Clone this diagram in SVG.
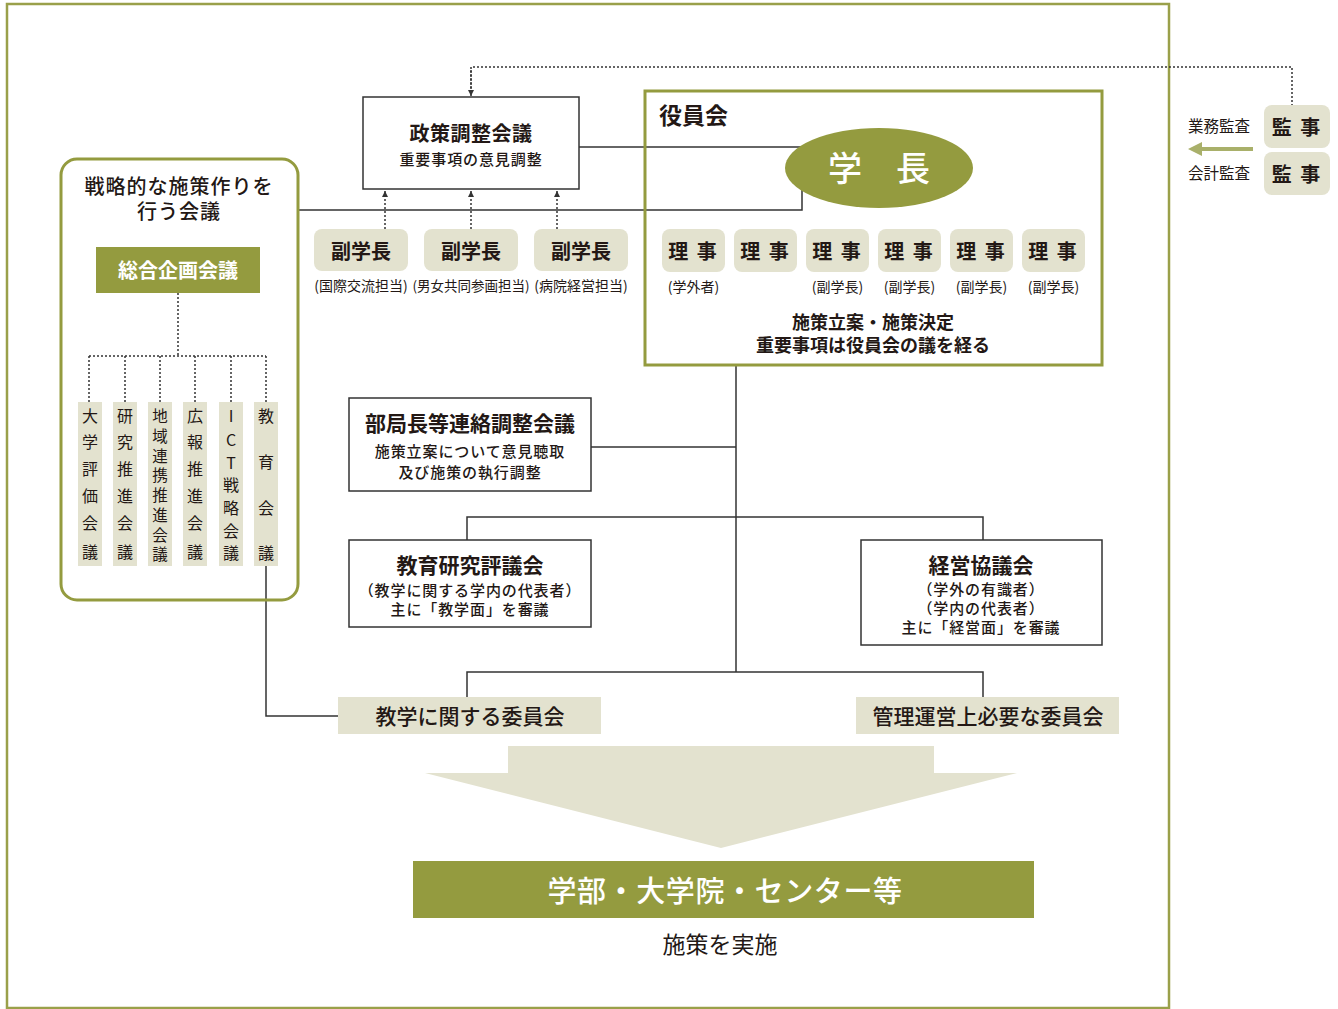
<svg xmlns="http://www.w3.org/2000/svg" width="1338" height="1009" viewBox="0 0 1338 1009">
<defs>
<style>
text{font-family:"Noto Sans CJK JP","Noto Sans CJK SC",sans-serif;fill:#231815;dominant-baseline:central}
.c{text-anchor:middle}
.t{font-size:20px;font-weight:700}
.s{font-size:15px;font-weight:500;letter-spacing:0.9px}
.l{font-size:14px;font-weight:400}
.v{font-size:16px;font-weight:400;text-anchor:middle}
.w{fill:#ffffff}
.box{fill:#ffffff;stroke:#333333;stroke-width:1.5}
.tag{fill:#e3e2cf}
.ol{fill:#949b3f}
.ln{fill:none;stroke:#333333;stroke-width:1.5}
.dt{fill:none;stroke:#333333;stroke-width:1.5;stroke-dasharray:2 2}
</style>
<marker id="ah" viewBox="0 0 10 10" refX="10" refY="5" markerWidth="6" markerHeight="6" orient="auto" markerUnits="userSpaceOnUse">
<path d="M0,0 L10,5 L0,10 z" fill="#333333"/>
</marker>
</defs>
<rect x="0" y="0" width="1338" height="1009" fill="#ffffff"/>
<rect id="frame" x="7" y="4" width="1162" height="1004" fill="none" stroke="#9aa04a" stroke-width="2.5"/>

<g id="connectors">
<path class="dt" d="M471,93 V67 H1292 V105" />
<line class="dt" x1="471" y1="70" x2="471" y2="96" marker-end="url(#ah)"/>
<line class="dt" x1="385" y1="229" x2="385" y2="191" marker-end="url(#ah)"/>
<line class="dt" x1="471" y1="229" x2="471" y2="191" marker-end="url(#ah)"/>
<line class="dt" x1="557" y1="229" x2="557" y2="191" marker-end="url(#ah)"/>
<path class="ln" d="M579,147 H805"/>
<path class="ln" d="M298,210 H802 V185"/>
<path class="dt" d="M178,293 V356 M89,356 H266 M89,356 V402 M125,356 V402 M160,356 V402 M195,356 V402 M231,356 V402 M266,356 V402"/>
<path class="ln" d="M266,566 V716 H338"/>
<path class="ln" d="M736,365 V672"/>
<path class="ln" d="M591,447 H736"/>
<path class="ln" d="M467,540 V517 H983 V540"/>
<path class="ln" d="M467,697 V672 H983 V697"/>
<line x1="1253" y1="149" x2="1198" y2="149" stroke="#a9b06a" stroke-width="4"/>
<path d="M1188,149 L1202,142 L1202,156 z" fill="#a9b06a"/>
</g>

<g id="strategy">
<rect x="61" y="159" width="237" height="441" rx="16" fill="none" stroke="#949b3f" stroke-width="3"/>
<text class="c" x="179" y="185" style="font-size:20px;font-weight:500;letter-spacing:1px">戦略的な施策作りを</text>
<text class="c" x="179" y="210" style="font-size:20px;font-weight:500;letter-spacing:1px">行う会議</text>
</g>
<g id="sogo">
<rect class="ol" x="96" y="247" width="164" height="46"/>
<text class="c w t" x="178" y="269">総合企画会議</text>
</g>
<g id="col1"><rect class="tag" x="78" y="402" width="24" height="164"/>
<text class="v"><tspan x="90" y="415">大</tspan><tspan x="90" y="441">学</tspan><tspan x="90" y="468">評</tspan><tspan x="90" y="495">価</tspan><tspan x="90" y="522">会</tspan><tspan x="90" y="551">議</tspan></text></g>
<g id="col2"><rect class="tag" x="113" y="402" width="24" height="164"/>
<text class="v"><tspan x="125" y="415">研</tspan><tspan x="125" y="441">究</tspan><tspan x="125" y="468">推</tspan><tspan x="125" y="495">進</tspan><tspan x="125" y="522">会</tspan><tspan x="125" y="551">議</tspan></text></g>
<g id="col3"><rect class="tag" x="148" y="402" width="24" height="164"/>
<text class="v" style="font-size:15.5px"><tspan x="160" y="415">地</tspan><tspan x="160" y="435">域</tspan><tspan x="160" y="455">連</tspan><tspan x="160" y="474">携</tspan><tspan x="160" y="494">推</tspan><tspan x="160" y="514">進</tspan><tspan x="160" y="534">会</tspan><tspan x="160" y="553">議</tspan></text></g>
<g id="col4"><rect class="tag" x="183" y="402" width="24" height="164"/>
<text class="v"><tspan x="195" y="415">広</tspan><tspan x="195" y="441">報</tspan><tspan x="195" y="468">推</tspan><tspan x="195" y="495">進</tspan><tspan x="195" y="522">会</tspan><tspan x="195" y="551">議</tspan></text></g>
<g id="col5"><rect class="tag" x="219" y="402" width="24" height="164"/>
<text class="v"><tspan x="231" y="415">I</tspan><tspan x="231" y="439">C</tspan><tspan x="231" y="462">T</tspan><tspan x="231" y="484">戦</tspan><tspan x="231" y="507">略</tspan><tspan x="231" y="530">会</tspan><tspan x="231" y="552">議</tspan></text></g>
<g id="col6"><rect class="tag" x="254" y="402" width="24" height="164"/>
<text class="v"><tspan x="266" y="415">教</tspan><tspan x="266" y="461">育</tspan><tspan x="266" y="507">会</tspan><tspan x="266" y="552">議</tspan></text></g>

<g id="seisaku">
<rect class="box" x="363" y="97" width="216" height="92"/>
<text class="c t" x="471" y="132" style="letter-spacing:0.5px">政策調整会議</text>
<text class="c s" x="471" y="158">重要事項の意見調整</text>
</g>
<g id="vp1"><rect class="tag" x="314" y="229" width="94" height="42" rx="8"/>
<text class="c t" x="361" y="250">副学長</text>
<text class="c l" x="361" y="285">(国際交流担当)</text></g>
<g id="vp2"><rect class="tag" x="424" y="229" width="94" height="42" rx="8"/>
<text class="c t" x="471" y="250">副学長</text>
<text class="c l" x="471" y="285" style="font-size:13.5px">(男女共同参画担当)</text></g>
<g id="vp3"><rect class="tag" x="534" y="229" width="94" height="42" rx="8"/>
<text class="c t" x="581" y="250">副学長</text>
<text class="c l" x="581" y="285">(病院経営担当)</text></g>

<g id="yakuin">
<rect x="645" y="91" width="457" height="274" fill="none" stroke="#949b3f" stroke-width="3"/>
<text x="659" y="114" style="font-size:23px;font-weight:700">役員会</text>
<text class="c" x="873" y="321" style="font-size:18px;font-weight:700">施策立案・施策決定</text>
<text class="c" x="873" y="344" style="font-size:18px;font-weight:700">重要事項は役員会の議を経る</text>
</g>
<g id="gakucho">
<ellipse class="ol" cx="879" cy="168" rx="94" ry="40"/>
<text class="c w" x="879" y="166" style="font-size:34px;font-weight:500">学　長</text>
</g>
<g id="riji1"><rect class="tag" x="662" y="229" width="63" height="43" rx="8"/><text class="c t" x="693.5" y="250" style="letter-spacing:2px">理 事</text><text class="c l" x="693.5" y="286">(学外者)</text></g>
<g id="riji2"><rect class="tag" x="734" y="229" width="63" height="43" rx="8"/><text class="c t" x="765.5" y="250" style="letter-spacing:2px">理 事</text></g>
<g id="riji3"><rect class="tag" x="806" y="229" width="63" height="43" rx="8"/><text class="c t" x="837.5" y="250" style="letter-spacing:2px">理 事</text><text class="c l" x="837.5" y="286">(副学長)</text></g>
<g id="riji4"><rect class="tag" x="878" y="229" width="63" height="43" rx="8"/><text class="c t" x="909.5" y="250" style="letter-spacing:2px">理 事</text><text class="c l" x="909.5" y="286">(副学長)</text></g>
<g id="riji5"><rect class="tag" x="950" y="229" width="63" height="43" rx="8"/><text class="c t" x="981.5" y="250" style="letter-spacing:2px">理 事</text><text class="c l" x="981.5" y="286">(副学長)</text></g>
<g id="riji6"><rect class="tag" x="1022" y="229" width="63" height="43" rx="8"/><text class="c t" x="1053.5" y="250" style="letter-spacing:2px">理 事</text><text class="c l" x="1053.5" y="286">(副学長)</text></g>

<g id="kanji1"><rect class="tag" x="1264" y="105" width="66" height="43" rx="8"/><text class="c t" x="1297" y="126" style="letter-spacing:2px">監 事</text></g>
<g id="kanji2"><rect class="tag" x="1264" y="152" width="66" height="43" rx="8"/><text class="c t" x="1297" y="173" style="letter-spacing:2px">監 事</text></g>
<text class="c" x="1219" y="125" style="font-size:15.5px;font-weight:400">業務監査</text>
<text class="c" x="1219" y="172" style="font-size:15.5px;font-weight:400">会計監査</text>

<g id="bukyoku">
<rect class="box" x="349" y="398" width="242" height="93"/>
<text class="c" x="470" y="422" style="font-size:21px;font-weight:700">部局長等連絡調整会議</text>
<text class="c s" x="470" y="450">施策立案について意見聴取</text>
<text class="c s" x="470" y="471">及び施策の執行調整</text>
</g>
<g id="kyoiku">
<rect class="box" x="349" y="540" width="242" height="87"/>
<text class="c" x="470" y="564" style="font-size:21px;font-weight:700">教育研究評議会</text>
<text class="c s" x="470" y="589">（教学に関する学内の代表者）</text>
<text class="c s" x="470" y="608">主に「教学面」を審議</text>
</g>
<g id="keiei">
<rect class="box" x="861" y="540" width="241" height="105"/>
<text class="c" x="981" y="564" style="font-size:21px;font-weight:700">経営協議会</text>
<text class="c s" x="981" y="588">（学外の有識者）</text>
<text class="c s" x="981" y="607">（学内の代表者）</text>
<text class="c s" x="981" y="626">主に「経営面」を審議</text>
</g>
<g id="iinkai1"><rect class="tag" x="338" y="697" width="263" height="37"/><text class="c" x="470" y="715" style="font-size:21px;font-weight:500">教学に関する委員会</text></g>
<g id="iinkai2"><rect class="tag" x="856" y="697" width="263" height="37"/><text class="c" x="988" y="715" style="font-size:21px;font-weight:500">管理運営上必要な委員会</text></g>

<g id="bigarrow">
<polygon class="tag" points="508,746 934,746 934,773 1017,773 721,848 425,773 508,773"/>
</g>
<g id="gakubu">
<rect class="ol" x="413" y="861" width="621" height="57"/>
<text class="c w" x="725" y="889" style="font-size:29px;font-weight:500;letter-spacing:0.6px">学部・大学院・センター等</text>
</g>
<text class="c" x="720" y="943" style="font-size:23px;font-weight:400">施策を実施</text>
</svg>
